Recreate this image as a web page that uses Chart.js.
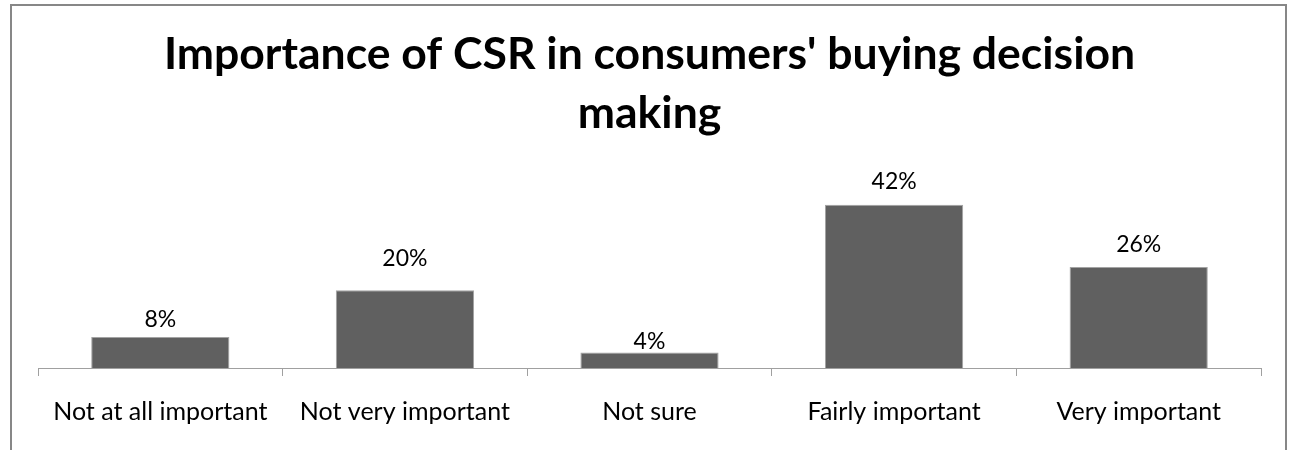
<!DOCTYPE html>
<html>
<head>
<meta charset="utf-8">
<script src="https://cdn.jsdelivr.net/npm/chart.js@4/dist/chart.umd.min.js"></script>
<style>
    html, body { margin: 0; padding: 0; background: #fff; overflow: hidden; }
    #wrap { position: relative; width: 1290px; height: 450px; }
    #frame {
        position: absolute; left: 10px; top: 4px;
        width: 1277px; height: 520px;
        box-sizing: border-box;
        border: 2px solid #878787;
        pointer-events: none;
    }
    canvas { position: absolute; left: 0; top: 0; }
</style>
</head>
<body>
<div id="wrap">
    <div id="frame"></div>
    <canvas id="csrchart" width="1290" height="450"></canvas>
</div>
<script>
const titleLines = ["Importance of CSR in consumers' buying decision", "making"];
const categories = [
    "Not at all important",
    "Not very important",
    "Not sure",
    "Fairly important",
    "Very important",
];
const shares = [8, 20, 4, 42, 26];

const fontFamily = "Lato, 'Open Sans', sans-serif";

// writes the percentage above each bar
const barValueLabels = {
    id: "barValueLabels",
    afterDatasetsDraw(chart, args, opts) {
        const ctx = chart.ctx;
        const meta = chart.getDatasetMeta(0);
        ctx.save();
        ctx.font = opts.size + "px " + fontFamily;
        ctx.fillStyle = "#000";
        ctx.textAlign = "center";
        ctx.textBaseline = "alphabetic";
        meta.data.forEach((bar, i) => {
            const value = chart.data.datasets[0].data[i];
            ctx.fillText(value + "%", bar.x, bar.y - opts.offsets[i]);
        });
        ctx.restore();
    },
};

const ctx = document.getElementById("csrchart").getContext("2d");

const chart = new Chart(ctx, {
    type: "bar",
    data: {
        labels: categories,
        datasets: [
            {
                data: shares,
                backgroundColor: "rgb(96,96,96)",
                borderColor: "#a3a3a3",
                borderWidth: 1,
                barPercentage: 1,
                categoryPercentage: 0.565,
            },
        ],
    },
    options: {
        responsive: false,
        animation: false,
        events: [],
        layout: {
            padding: { left: 38, right: 29, top: 0, bottom: 2 },
        },
        plugins: {
            legend: { display: false },
            tooltip: { enabled: false },
            title: {
                display: true,
                text: titleLines,
                color: "#000",
                font: { family: fontFamily, size: 44.5, weight: "bold", lineHeight: 1.326 },
                padding: { top: 25, bottom: 50 },
            },
            barValueLabels: {
                size: 23,
                offsets: [10, 24, 3, 16, 15],
            },
        },
        scales: {
            x: {
                grid: {
                    display: true,
                    drawOnChartArea: false,
                    drawTicks: true,
                    tickLength: 8,
                    color: "#a0a0a0",
                    offset: true,
                },
                border: { display: true, color: "#a0a0a0", width: 1 },
                ticks: {
                    color: "#000",
                    padding: 21,
                    font: { family: fontFamily, size: 25 },
                    maxRotation: 0,
                    autoSkip: false,
                },
            },
            y: {
                display: false,
                min: 0,
                max: 45,
            },
        },
    },
    plugins: [barValueLabels],
});
</script>
</body>
</html>
